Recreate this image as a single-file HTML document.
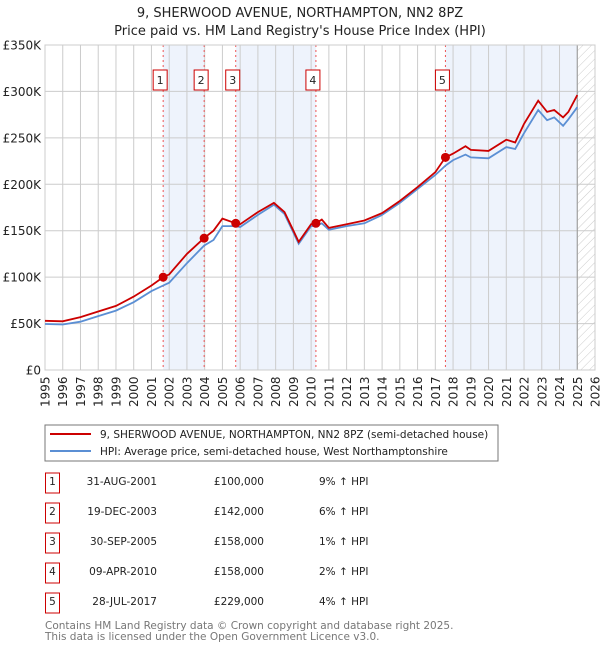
<!DOCTYPE html>
<html><head><meta charset="utf-8"><style>
body{margin:0;background:#fff;font-family:"Liberation Sans","DejaVu Sans",sans-serif;}
#wrap{position:relative;width:600px;height:650px;overflow:hidden;}
</style></head><body><div id="wrap">
<svg id="chart" width="600" height="650" xmlns="http://www.w3.org/2000/svg" style="font-family:'DejaVu Sans','Liberation Sans',sans-serif">
<defs><pattern id="hatch" width="6" height="6" patternUnits="userSpaceOnUse" patternTransform="rotate(45)"><line x1="0" y1="0" x2="0" y2="6" stroke="#ccc" stroke-width="1"/></pattern></defs>
<text x="300" y="17" text-anchor="middle" font-size="13" fill="#222">9, SHERWOOD AVENUE, NORTHAMPTON, NN2 8PZ</text>
<text x="300" y="35" text-anchor="middle" font-size="13" fill="#222">Price paid vs. HM Land Registry's House Price Index (HPI)</text>
<g id="plot"></g>
<rect x="45" y="425" width="453" height="36" fill="#fff" stroke="#777"/>
<line x1="50" y1="434" x2="91" y2="434" stroke="#cc0000" stroke-width="2"/>
<text x="100" y="438" font-size="10.5" fill="#222">9, SHERWOOD AVENUE, NORTHAMPTON, NN2 8PZ (semi-detached house)</text>
<line x1="50" y1="451" x2="91" y2="451" stroke="#5b8fd4" stroke-width="2"/>
<text x="100" y="455" font-size="10.5" fill="#222">HPI: Average price, semi-detached house, West Northamptonshire</text>
<g id="table"></g>
<text x="45" y="629" font-size="10.5" fill="#777">Contains HM Land Registry data © Crown copyright and database right 2025.</text>
<text x="45" y="640" font-size="10.5" fill="#777">This data is licensed under the Open Government Licence v3.0.</text>
</svg></div>
<script>
const yearTicks=[1995,1996,1997,1998,1999,2000,2001,2002,2003,2004,2005,2006,2007,2008,2009,2010,2011,2012,2013,2014,2015,2016,2017,2018,2019,2020,2021,2022,2023,2024,2025,2026];
const valueTicks=[0,50,100,150,200,250,300,350];
const valueLabels=["£0","£50K","£100K","£150K","£200K","£250K","£300K","£350K"];
const dates=[1995,1996,1997,1998,1999,2000,2001,2001.66,2002,2003,2003.97,2004.5,2005,2005.75,2006,2007,2007.9,2008.5,2009,2009.3,2010,2010.27,2010.6,2011,2012,2013,2014,2015,2016,2017,2017.57,2018,2018.7,2019,2020,2021,2021.5,2022,2022.8,2023.3,2023.7,2024.2,2024.5,2025];
const hpiValues=[49.5,49,52,58,64,73,85,91,94,115,134,140,155,155,154,167,178,168,148,136,155,155,158,151,155,158,167,180,195,210,220,226,232,229,228,240,238,255,280,269,272,263,270,283];
const priceValues=[53,52.5,57,63,69,79,91,100,103,125,142,150,163,158,157,170,180,170,150,138,157,158,162,153,157,161,169,182,197,213,229,233,241,237,236,248,245,265,290,278,280,272,278,296];
const saleLabels=["1","2","3","4","5"];
const saleDates=[2001.66,2003.97,2005.75,2010.27,2017.57];
const salePrices=[100,142,158,158,229];
const saleDateText=["31-AUG-2001","19-DEC-2003","30-SEP-2005","09-APR-2010","28-JUL-2017"];
const salePriceText=["£100,000","£142,000","£158,000","£158,000","£229,000"];
const saleHpiText=["9% ↑ HPI","6% ↑ HPI","1% ↑ HPI","2% ↑ HPI","4% ↑ HPI"];

const NS="http://www.w3.org/2000/svg";
const X0=45,X1=595,Y0=370,Y1=45;
const xs=v=>X0+(v-1995)/(2026-1995)*(X1-X0);
const ys=v=>Y0-v/350*(Y0-Y1);
function mk(tag,attrs,parent){const e=document.createElementNS(NS,tag);for(const k in attrs)e.setAttribute(k,attrs[k]);parent.appendChild(e);return e;}
const plot=document.getElementById('plot');
let e;
e=mk('rect',{x:X0,y:Y1,width:X1-X0,height:Y0-Y1,fill:'#fff'},plot);


const bands=[[0,1],[2,3],[4,null]];
bands.forEach((b,i)=>{const a=xs(saleDates[b[0]]);const z=b[1]===null?xs(2025):xs(saleDates[b[1]]);
e=mk('rect',{x:a,y:Y1,width:z-a,height:Y0-Y1,fill:'#eef3fc'},plot);

});
e=mk('rect',{x:xs(2025),y:Y1,width:X1-xs(2025),height:Y0-Y1,fill:'url(#hatch)'},plot);


yearTicks.forEach(y=>{e=mk('line',{x1:xs(y),x2:xs(y),y1:Y1,y2:Y0,stroke:'#ccc','stroke-width':1},plot);


e=mk('text',{transform:`translate(${xs(y)+4.5},407) rotate(-90)`,'font-size':12,fill:'#222'},plot);e.textContent=y;

});
valueTicks.forEach((v,i)=>{e=mk('line',{x1:X0,x2:X1,y1:ys(v),y2:ys(v),stroke:'#ccc','stroke-width':1},plot);


e=mk('text',{x:X0-4,y:ys(v)+4.5,'text-anchor':'end','font-size':12,fill:'#222'},plot);e.textContent=valueLabels[i];

});
e=mk('line',{x1:xs(2025),x2:xs(2025),y1:Y1,y2:Y0,stroke:'#999','stroke-width':1},plot);


saleDates.forEach((d,i)=>{e=mk('line',{x1:xs(d),x2:xs(d),y1:Y1,y2:Y0,stroke:'#e55','stroke-width':1,'stroke-dasharray':'2,3'},plot);


e=mk('rect',{x:xs(d)-10,y:70,width:14,height:20,fill:'#fff',stroke:'#cc0000'},plot);


e=mk('text',{x:xs(d)-3,y:84,'text-anchor':'middle','font-size':11,fill:'#222'},plot);e.textContent=saleLabels[i];

});
e=mk('rect',{x:X0,y:Y1,width:X1-X0,height:Y0-Y1,fill:'none',stroke:'#ccc'},plot);


const path=arr=>dates.map((d,i)=>(i?'L':'M')+xs(d).toFixed(1)+','+ys(arr[i]).toFixed(1)).join('');
e=mk('path',{d:path(hpiValues),fill:'none',stroke:'#5b8fd4','stroke-width':1.8},plot);


e=mk('path',{d:path(priceValues),fill:'none',stroke:'#cc0000','stroke-width':1.8},plot);


saleDates.forEach((d,i)=>{e=mk('circle',{cx:xs(d),cy:ys(salePrices[i]),r:4.5,fill:'#cc0000'},plot);

});
const table=document.getElementById('table');
saleLabels.forEach((l,i)=>{const cy=483+i*30;
e=mk('rect',{x:45.5,y:cy-10,width:14,height:20,fill:'#fff',stroke:'#cc0000'},table);


e=mk('text',{x:52.5,y:cy+2,'text-anchor':'middle','font-size':10.5,fill:'#222'},table);e.textContent=l;


e=mk('text',{x:157,y:cy+2,'text-anchor':'end','font-size':10.5,fill:'#222'},table);e.textContent=saleDateText[i];


e=mk('text',{x:264,y:cy+2,'text-anchor':'end','font-size':10.5,fill:'#222'},table);e.textContent=salePriceText[i];


e=mk('text',{x:319,y:cy+2,'font-size':10.5,fill:'#222'},table);e.textContent=saleHpiText[i];

});
</script></body></html>
